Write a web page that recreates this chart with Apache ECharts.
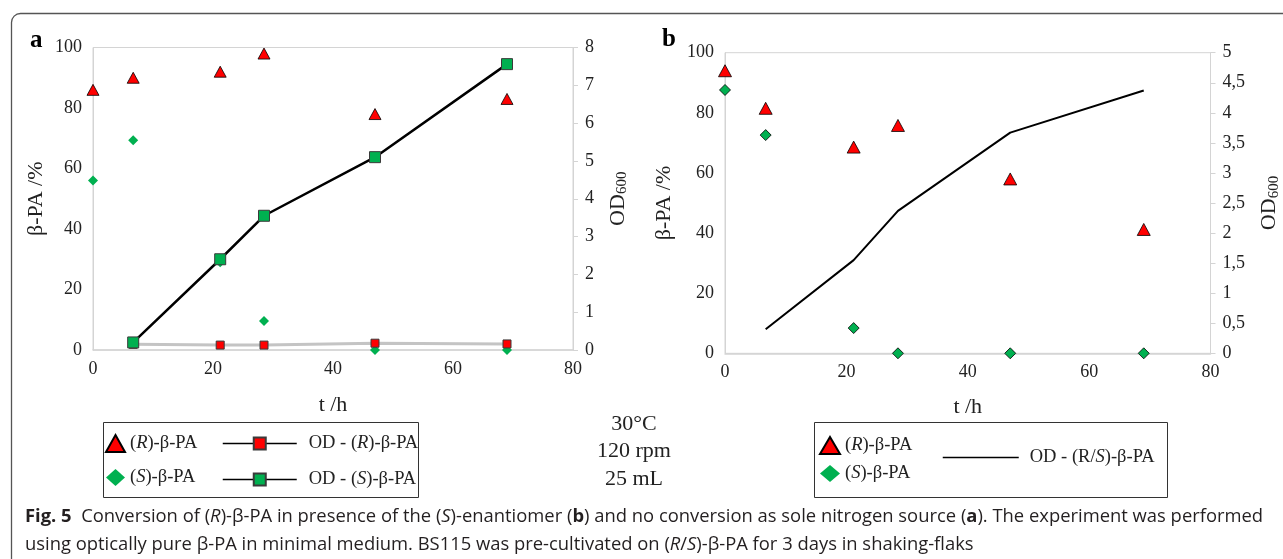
<!DOCTYPE html>
<html>
<head>
<meta charset="utf-8">
<script src="https://cdn.jsdelivr.net/npm/echarts@6/dist/echarts.min.js"></script>
<style>
  html, body { margin: 0; padding: 0; background: #fff; }
  #chart { width: 1283px; height: 559px; }
</style>
</head>
<body>
<div id="chart"></div>
<script>
// panel a: sole nitrogen source
const timeA = [0, 6.7, 21.2, 28.5, 47, 69]
const rA = [86, 90, 92, 98, 78, 83]
const sA = [56, 69.3, 29, 9.6, 0, 0]
const odRA = [null, 0.15, 0.13, 0.13, 0.18, 0.16]
const odSA = [null, 0.2, 2.4, 3.55, 5.1, 7.56]

// panel b: racemate
const timeB = [0, 6.7, 21.2, 28.5, 47, 69]
const rB = [94, 81.5, 68.6, 75.8, 58, 41.2]
const sB = [87.6, 72.6, 8.4, 0, 0, 0]
const odB = [null, 0.4, 1.55, 2.37, 3.67, 4.37]

const conditions = ['30°C', '120 rpm', '25 mL']

const serif = '"Liberation Serif", "Times New Roman", serif'
const red = '#ff0000'
const green = '#00b050'
const light = '#d4d4d4'

const pairs = (xs, ys) => xs.map((x, i) => [x, ys[i]]).filter(p => p[1] != null)

const chart = echarts.init(document.getElementById('chart'))

const labelStyle = { color: '#222', fontFamily: serif, fontSize: 18 }
const nameStyle = { color: '#222', fontFamily: serif, fontSize: 22 }
const odName = {
  ...nameStyle,
  rich: {
    a: { fontFamily: serif, fontSize: 22, color: '#222' },
    s: { fontFamily: serif, fontSize: 15, color: '#222', verticalAlign: 'bottom', padding: [9, 0, 0, 0] }
  }
}

const xAxis = (grid, gap) => ({
  type: 'value', gridIndex: grid, min: 0, max: 80, interval: 20,
  axisLine: { lineStyle: { color: light, width: 1.5 } },
  axisTick: { show: false },
  splitLine: { show: false },
  axisLabel: { ...labelStyle, margin: 10 },
  name: 't /h', nameLocation: 'middle', nameGap: gap, nameTextStyle: nameStyle
})

const pctAxis = (grid, gap) => ({
  type: 'value', gridIndex: grid, position: 'left', min: 0, max: 100, interval: 20,
  axisLine: { show: true, lineStyle: { color: light } },
  axisTick: { show: false },
  splitLine: { show: false },
  axisLabel: { ...labelStyle, margin: 11 },
  name: 'β-PA /%', nameLocation: 'middle', nameRotate: 90, nameGap: gap, nameTextStyle: nameStyle
})

const odAxis = (grid, max, interval, gap) => ({
  type: 'value', gridIndex: grid, position: 'right', min: 0, max: max, interval: interval,
  axisLine: { show: true, lineStyle: { color: light } },
  axisTick: { show: true, inside: false, length: 5, lineStyle: { color: light } },
  splitLine: { show: false },
  axisLabel: { ...labelStyle, margin: 12, formatter: v => String(v).replace('.', ',') },
  name: '{a|OD}{s|600}', nameLocation: 'middle', nameRotate: 90, nameGap: gap, nameTextStyle: odName
})

const italicName = name => name
  .replace('(R)', '({i|R})')
  .replace('(S)', '({i|S})')
  .replace('/S)', '/{i|S})')

const legendText = {
  color: '#222', fontFamily: serif, fontSize: 18.5,
  rich: { i: { fontFamily: serif, fontSize: 18.5, fontStyle: 'italic', color: '#222' } }
}

const legendBase = {
  orient: 'vertical', selectedMode: false, itemGap: 14,
  textStyle: legendText, formatter: italicName
}

chart.setOption({
  animation: false,
  grid: [
    { left: 93, top: 47.5, width: 480, height: 302.5, show: true, borderColor: light, borderWidth: 1 },
    { left: 725, top: 52.7, width: 485.5, height: 300.6, show: true, borderColor: light, borderWidth: 1 }
  ],
  xAxis: [xAxis(0, 44), xAxis(1, 43)],
  yAxis: [
    pctAxis(0, 46), odAxis(0, 8, 1, 33),
    pctAxis(1, 50), odAxis(1, 5, 0.5, 47)
  ],
  legend: [
    { ...legendBase, left: 100, top: 429, itemWidth: 19, itemHeight: 17, itemGap: 15,
      data: ['(R)-β-PA', '(S)-β-PA'] },
    { ...legendBase, left: 217, top: 429, itemWidth: 74, itemHeight: 15, itemGap: 17,
      formatter: n => '{g|}' + italicName(n),
      textStyle: { ...legendText, rich: { ...legendText.rich, g: { width: 7 } } },
      data: [
        { name: 'OD - (R)-β-PA', lineStyle: { color: '#000', width: 1.5 } },
        { name: 'OD - (S)-β-PA', lineStyle: { color: '#000', width: 1.5 } }
      ] },
    { ...legendBase, left: 814, top: 431, itemWidth: 20, itemHeight: 17, itemGap: 9,
      data: ['(R)-β-PA', '(S)-β-PA'] },
    { ...legendBase, left: 937, top: 443, itemWidth: 76, itemHeight: 15,
      formatter: n => '{g|}' + italicName(n),
      textStyle: { ...legendText, rich: { ...legendText.rich, g: { width: 6 } } },
      data: [{ name: 'OD - (R/S)-β-PA', itemStyle: { opacity: 0 }, lineStyle: { color: '#000', width: 1.5 } }] }
  ],
  series: [
    {
      name: 'OD - (R)-β-PA', type: 'line', xAxisIndex: 0, yAxisIndex: 1,
      data: pairs(timeA, odRA), symbol: 'rect', symbolSize: 8,
      lineStyle: { color: '#c4c4c4', width: 3 },
      itemStyle: { color: red, borderColor: '#3a3a3a', borderWidth: 1 }
    },
    {
      name: '(R)-β-PA', type: 'scatter', xAxisIndex: 0, yAxisIndex: 0,
      data: pairs(timeA, rA), symbol: 'triangle', symbolSize: [12, 11],
      itemStyle: { color: red, borderColor: '#000', borderWidth: 0.8, opacity: 1 }
    },
    {
      name: '(S)-β-PA', type: 'scatter', xAxisIndex: 0, yAxisIndex: 0,
      data: pairs(timeA, sA), symbol: 'diamond', symbolSize: [10, 10],
      itemStyle: { color: green, opacity: 1 }
    },
    {
      name: 'OD - (S)-β-PA', type: 'line', xAxisIndex: 0, yAxisIndex: 1,
      data: pairs(timeA, odSA), symbol: 'rect', symbolSize: 11,
      lineStyle: { color: '#000', width: 2.5 },
      itemStyle: { color: green, borderColor: '#3a3a3a', borderWidth: 1 }
    },
    {
      name: '(R)-β-PA', type: 'scatter', xAxisIndex: 1, yAxisIndex: 2,
      data: pairs(timeB, rB), symbol: 'triangle', symbolSize: [13, 12],
      itemStyle: { color: red, borderColor: '#000', borderWidth: 0.8, opacity: 1 }
    },
    {
      name: '(S)-β-PA', type: 'scatter', xAxisIndex: 1, yAxisIndex: 2,
      data: pairs(timeB, sB), symbol: 'diamond', symbolSize: [11, 11],
      itemStyle: { color: green, borderColor: '#000', borderWidth: 0.8, opacity: 1 }
    },
    {
      name: 'OD - (R/S)-β-PA', type: 'line', xAxisIndex: 1, yAxisIndex: 3,
      data: pairs(timeB, odB), symbol: 'none',
      lineStyle: { color: '#000', width: 2 },
      itemStyle: { color: '#000' }
    }
  ],
  graphic: [
    { type: 'rect', shape: { x: 11.5, y: 13.5, width: 1300, height: 600, r: 9 },
      style: { fill: 'none', stroke: '#555', lineWidth: 1.3 }, silent: true },
    { type: 'text', left: 30, top: 28, style: { text: 'a', font: 'bold 25px ' + serif, fill: '#000' } },
    { type: 'text', left: 662, top: 27, style: { text: 'b', font: 'bold 25px ' + serif, fill: '#000' } },
    { type: 'rect', shape: { x: 103.5, y: 422.5, width: 315, height: 75 },
      style: { fill: 'none', stroke: '#333', lineWidth: 1 }, silent: true },
    { type: 'rect', shape: { x: 814.5, y: 422.5, width: 353, height: 75 },
      style: { fill: 'none', stroke: '#333', lineWidth: 1 }, silent: true },
    { type: 'text', x: 634, y: 410, style: {
        text: conditions.join('\n'), font: '22px ' + serif, lineHeight: 27.5,
        fill: '#222', align: 'center' } },
    { type: 'text', x: 25, y: 517, style: {
        text: '{b|Fig. 5}  Conversion of ({i|R})-β-PA in presence of the ({i|S})-enantiomer ({b|b}) and no conversion as sole nitrogen source ({b|a}). The experiment was performed',
        font: '18.4px "Open Sans"', fill: '#231f20', verticalAlign: 'middle',
        rich: {
          b: { fontFamily: 'Open Sans', fontSize: 18.4, fontWeight: 'bold', fill: '#231f20' },
          i: { fontFamily: 'Open Sans', fontSize: 18.4, fontStyle: 'italic', fill: '#231f20' }
        } } },
    { type: 'text', x: 25, y: 545, style: {
        text: 'using optically pure β-PA in minimal medium. BS115 was pre-cultivated on ({i|R}/{i|S})-β-PA for 3 days in shaking-flaks',
        font: '18.4px "Open Sans"', fill: '#231f20', verticalAlign: 'middle',
        rich: {
          i: { fontFamily: 'Open Sans', fontSize: 18.4, fontStyle: 'italic', fill: '#231f20' }
        } } }
  ]
})
</script>
</body>
</html>
